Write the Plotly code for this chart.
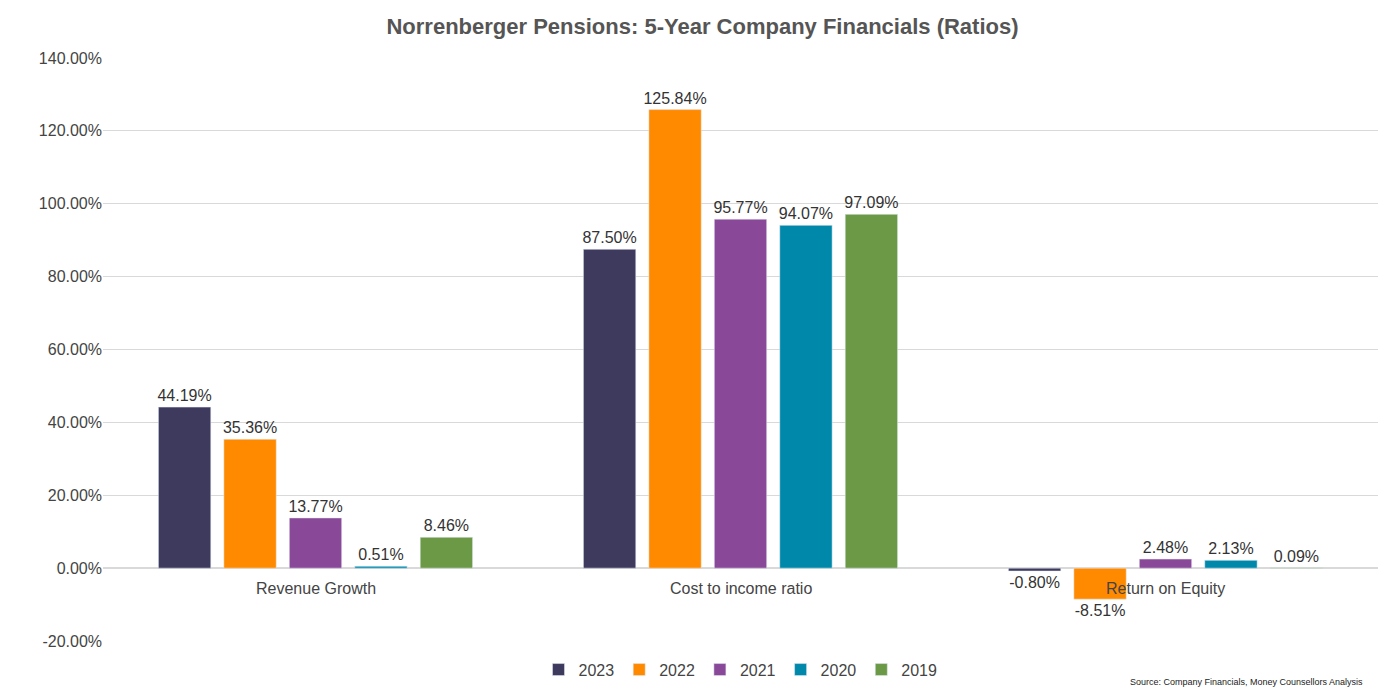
import plotly.graph_objects as go

categories = ["Revenue Growth", "Cost to income ratio", "Return on Equity"]
years = ["2023", "2022", "2021", "2020", "2019"]
values = {
    "2023": [44.19, 87.50, -0.80],
    "2022": [35.36, 125.84, -8.51],
    "2021": [13.77, 95.77, 2.48],
    "2020": [0.51, 94.07, 2.13],
    "2019": [8.46, 97.09, 0.09],
}
colors = {"2023": "#3e3a5e", "2022": "#ff8a00", "2021": "#8a4899",
          "2020": "#0088ab", "2019": "#6b9945"}
ytick_vals = [-20, 0, 20, 40, 60, 80, 100, 120, 140]

fig = go.Figure()
for y in years:
    fig.add_trace(go.Bar(
        x=categories, y=values[y], name=y, marker_color=colors[y],
        text=[f"{v:.2f}%" for v in values[y]], textposition="outside",
        textfont=dict(size=16, color="#333"), cliponaxis=False,
    ))

# category labels sit just under the zero line
for c in categories:
    fig.add_annotation(x=c, y=0, yanchor="top", yshift=-10, text=c,
                       showarrow=False, font=dict(size=16, color="#444"))

fig.add_annotation(xref="paper", yref="paper", x=0.99, y=-0.07, xanchor="right",
                   yanchor="middle",
                   text="Source: Company Financials, Money Counsellors Analysis",
                   showarrow=False, font=dict(size=9, color="#222"))

fig.update_layout(
    title=dict(text="<b>Norrenberger Pensions: 5-Year Company Financials (Ratios)</b>",
               x=0.5, y=0.985, yanchor="top", font=dict(size=22, color="#555")),
    width=1389, height=695, plot_bgcolor="white", paper_bgcolor="white",
    margin=dict(l=95, r=19, t=50, b=62, autoexpand=False),
    barmode="group", bargap=0.23, bargroupgap=0.2,
    font=dict(family="Liberation Sans, Arial", color="#444"),
    legend=dict(orientation="h", x=0.5, xanchor="center", y=-0.02, yanchor="top",
                font=dict(size=16)),
    uniformtext=dict(mode="show", minsize=16),
)
fig.update_xaxes(showticklabels=False, showline=False)
fig.update_yaxes(range=[-20, 140], tickvals=ytick_vals,
                 ticktext=[f"{v:.2f}%" for v in ytick_vals],
                 gridcolor="#d9d9d9", zeroline=True, zerolinecolor="#d9d9d9",
                 tickfont=dict(size=16, color="#444"))

fig.write_html("out.html")
